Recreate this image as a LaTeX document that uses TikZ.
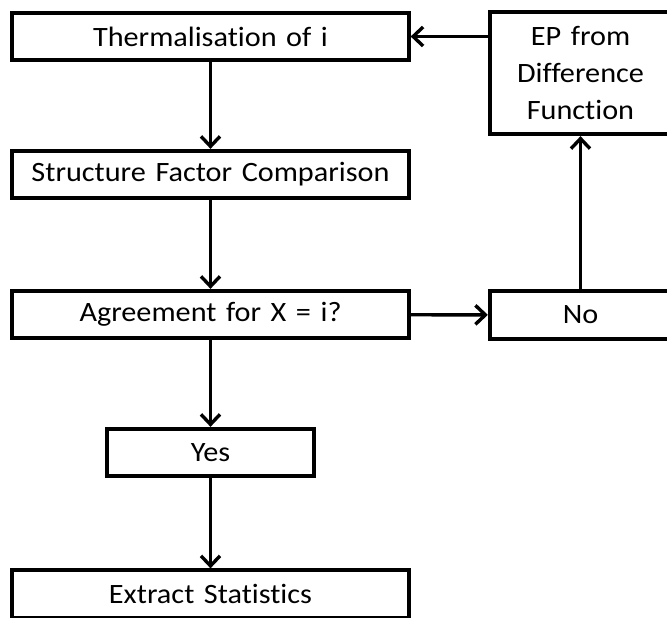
\documentclass[tikz,border=0pt]{standalone}
\usepackage{fontspec}
\setmainfont{Carlito}[FakeStretch=1.08,Ligatures={NoCommon},WordSpace=1.4]
\usetikzlibrary{arrows.meta}

\tikzset{box:style/.style={draw,line width=3.8pt,inner sep=0pt,minimum height=47.5pt,align=center,font=\boxtext}}
\tikzset{edge:style/.style={draw,line width=3.4pt,-{Straight Barb[length=10pt,width=19pt]}}}
\def\boxtext{\fontsize{28}{37}\selectfont}
\def\myLeftX{210.5}
\def\myRightX{580.5}

\begin{document}
\begin{tikzpicture}[x=1pt,y=-1pt]
	
	\useasboundingbox (0,0) rectangle (667,618);
	
	\path 
		(\myLeftX,36.5) coordinate (ctherm)
		(\myLeftX,174.5) coordinate (cstruct)
		(\myLeftX,314.5) coordinate (cagree)
		(\myLeftX,452.5) coordinate (cyes)
		(\myLeftX,594) coordinate (cextract)
		(\myRightX,73) coordinate (cep)
		(\myRightX,315) coordinate (cno);
	
	\path (ctherm) node[box:style,minimum width=396.5pt] (therm) {Thermalisation of i};
	\path (cstruct) node[box:style,minimum width=396.5pt] (struct) {Structure Factor Comparison};
	\path (cagree) node[box:style,minimum width=396.5pt] (agree) {Agreement for X = i?};
	\path (cyes) node[box:style,minimum width=207.5pt] (yes) {Yes};
	\path (cextract) node[box:style,minimum width=396.5pt] (extract) {Extract Statistics};
	\path (cep) node[box:style,minimum width=181.5pt,minimum height=122.5pt] (ep) {EP from\\Difference\\Function};
	\path (cno) node[box:style,minimum width=181.5pt] (no) {No};
	
	\path[edge:style] (therm) -- (struct);
	\path[edge:style] (struct) -- (agree);
	\path[edge:style] (agree) -- (yes);
	\path[edge:style] (yes) -- (extract);
	\path[edge:style] (agree) -- (no);
	\path[edge:style] (no) -- (ep);
	\path[edge:style] (ep.west |- therm.east) -- (therm.east);
	
\end{tikzpicture}
\end{document}
